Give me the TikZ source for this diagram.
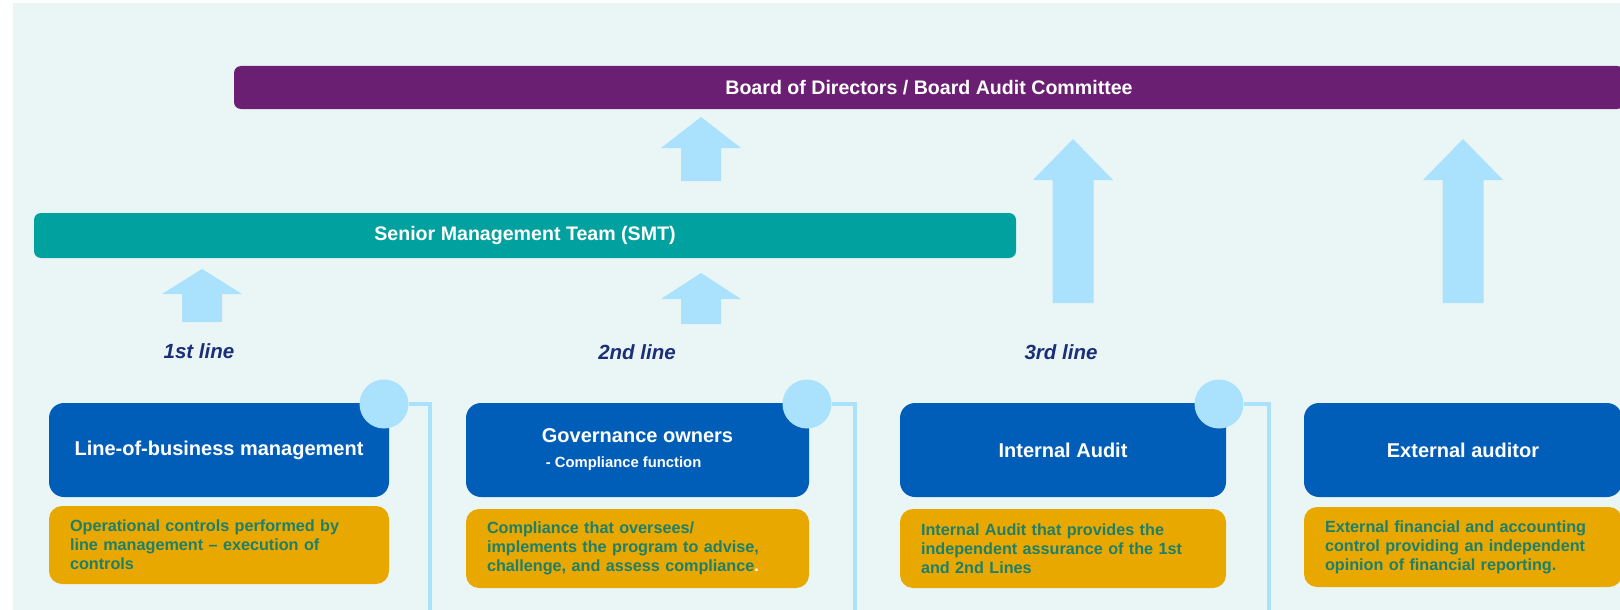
\documentclass[tikz,border=0pt]{standalone}
\usepackage{fontspec}
\setmainfont{Liberation Sans}
\definecolor{bgc}{HTML}{EAF6F6}
\definecolor{purplec}{HTML}{6B1F73}
\definecolor{tealc}{HTML}{00A19E}
\definecolor{bluec}{HTML}{005EB8}
\definecolor{orangec}{HTML}{E8A800}
\definecolor{otext}{HTML}{1E7F6B}
\definecolor{lightb}{HTML}{AAE1FC}
\definecolor{navyc}{HTML}{1B2E78}
\newcommand{\blockup}[6]{%
  \fill[lightb] (#1,#2) -- ({#1+#5},#3) -- ({#1+#6},#3) -- ({#1+#6},#4) --
    ({#1-#6},#4) -- ({#1-#6},#3) -- ({#1-#5},#3) -- cycle;}
\begin{document}
\begin{tikzpicture}[x=1pt,y=-1pt,
  bar/.style={rounded corners=7pt, inner sep=0pt, text=white,
    font=\fontsize{19.6}{23}\selectfont\bfseries},
  bluebox/.style={fill=bluec, rounded corners=15pt, minimum height=94pt,
    inner sep=0pt, text=white, align=center,
    font=\fontsize{20}{23}\selectfont\bfseries},
  orangebox/.style={fill=orangec, rounded corners=13pt, inner xsep=21pt,
    inner ysep=0pt, text=otext, align=left,
    font=\fontsize{16.2}{19}\selectfont\bfseries},
  linelabel/.style={text=navyc, font=\fontsize{20.5}{24}\selectfont\bfseries\itshape},
  dot/.style={circle, fill=lightb, minimum size=49pt, inner sep=0pt},
  conn/.style={draw=lightb, line width=3.2pt}
]
\useasboundingbox (0,0) rectangle (1620,610);
\clip (0,0) rectangle (1620,610);
\fill[bgc] (13,3) rectangle (1640,630);

% top bars
\node[bar, fill=purplec, minimum width=1390pt, minimum height=43pt] (board) at (929,87.5)
  {Board of Directors / Board Audit Committee};
\node[bar, fill=tealc, minimum width=982pt, minimum height=45pt] (smt) at (525,235.5)
  {Senior Management Team (SMT)};

% block arrows
\blockup{701}{117}{148}{181}{40}{20}
\blockup{202}{269}{294}{322}{40}{20}
\blockup{701}{273}{299}{324}{40}{20}
\blockup{1073}{139}{180}{303}{40}{20.5}
\blockup{1463}{139}{180}{303}{40}{20.5}

% line labels
\node[linelabel] (l1) at (199,351) {1st line};
\node[linelabel] (l2) at (637,352) {2nd line};
\node[linelabel] (l3) at (1061,352) {3rd line};

% blue boxes
\node[bluebox, minimum width=340pt] (b1) at (219,450) {Line-of-business management};
\node[bluebox, minimum width=343pt, align=left] (b2) at (637.5,450)
  {Governance owners\\[2pt]\hspace*{4pt}{\fontsize{14.8}{17}\selectfont - Compliance function}};
\node[bluebox, minimum width=326pt] (b3) at (1063,450) {Internal Audit};
\node[bluebox, minimum width=318pt] (b4) at (1463,450) {External auditor};

% orange boxes
\node[orangebox, text width=298pt, minimum height=78pt] (o1) at (219,545)
  {Operational controls performed by\\line management – execution of\\controls};
\node[orangebox, text width=301pt, minimum height=79pt] (o2) at (637.5,548.5)
  {Compliance that oversees/\\implements the program to advise,\\challenge, and assess compliance\textcolor{white}{.}};
\node[orangebox, text width=284pt, minimum height=79pt] (o3) at (1063,548.5)
  {Internal Audit that provides the\\independent assurance of the 1st\\and 2nd Lines};
\node[orangebox, text width=276pt, minimum height=80pt] (o4) at (1463,547)
  {External financial and accounting\\control providing an independent\\opinion of financial reporting.};

% circles and connectors
\coordinate (e1) at (430,615);
\coordinate (e2) at (855,615);
\coordinate (e3) at (1269,615);
\node[dot] (c1) at (384,404) {};
\node[dot] (c2) at (807,404) {};
\node[dot] (c3) at (1219,404) {};
\draw[conn] (c1.east) -| (e1);
\draw[conn] (c2.east) -| (e2);
\draw[conn] (c3.east) -| (e3);
\end{tikzpicture}
\end{document}
